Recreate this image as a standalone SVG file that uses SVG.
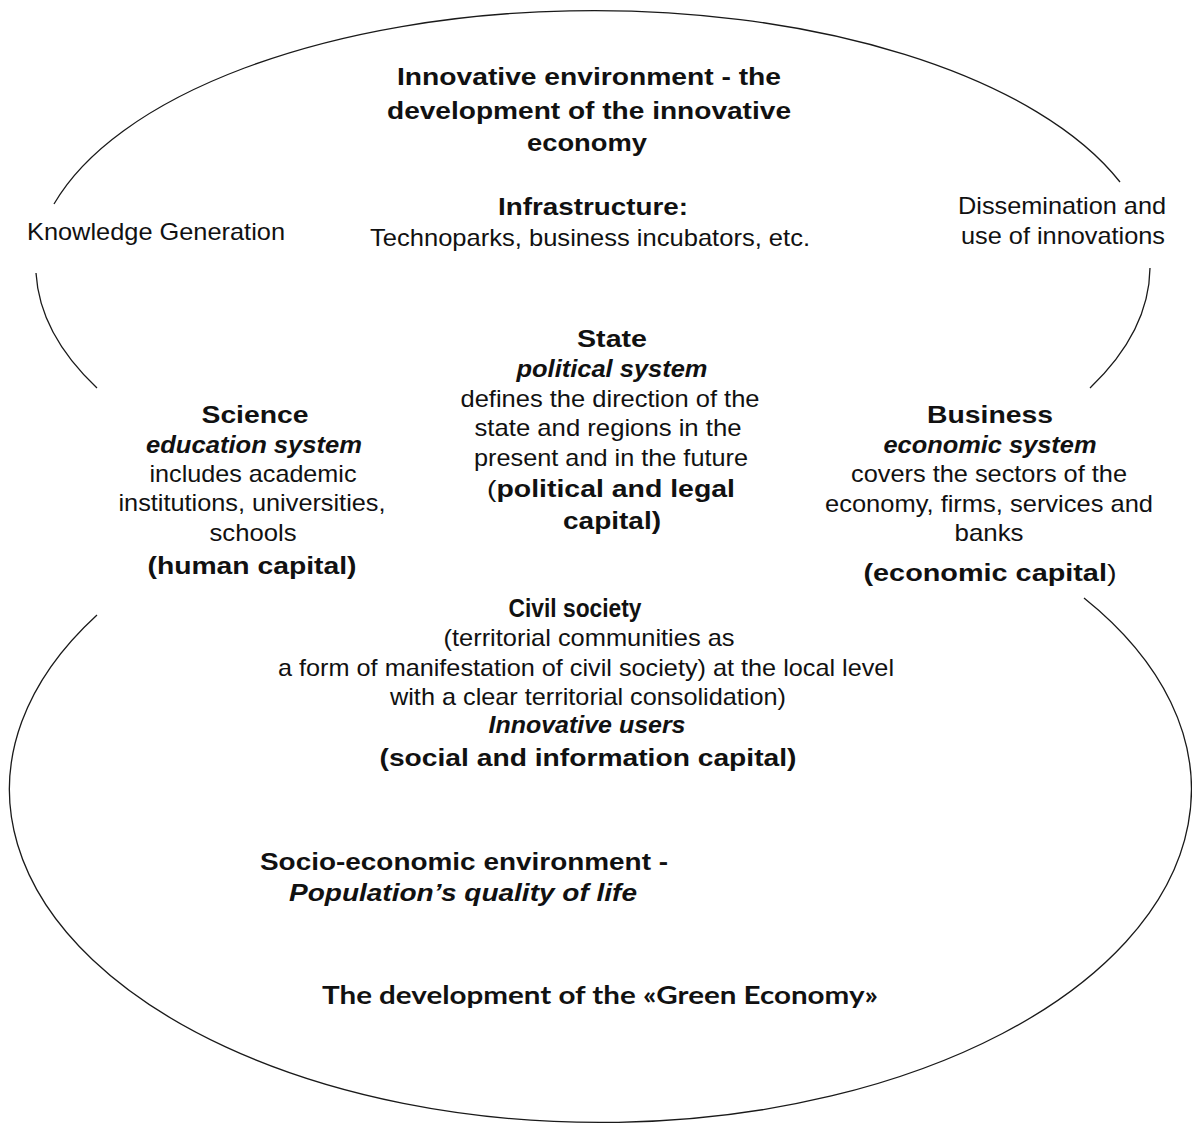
<svg xmlns="http://www.w3.org/2000/svg" width="1192" height="1131" viewBox="0 0 1192 1131">
<style>
.arc{fill:none;stroke:#1a1a1a;stroke-width:1.3}
text{font-family:"Liberation Sans",Arial,sans-serif;font-size:24px;fill:#111;text-anchor:middle}
.r{font-weight:normal}
.b{font-weight:bold}
.bi{font-weight:bold;font-style:italic}
.cal{font-family:Lato,"Open Sans",sans-serif;font-weight:bold}
</style>
<rect width="1192" height="1131" fill="#fff"/>
<g id="outlines">
<path class="arc" d="M 54 204 A 560 262 0 0 1 1120 182"/>
<path class="arc" d="M 36 273 A 560 270 0 0 0 97 388"/>
<path class="arc" d="M 1150 268 A 560 270 0 0 1 1090 388"/>
<path class="arc" d="M 97 615 A 591 333 0 1 0 1084 598"/>
</g>
<g id="innovative-environment">
<text class="b" x="589" y="85" textLength="384" lengthAdjust="spacingAndGlyphs">Innovative environment - the</text>
<text class="b" x="589" y="119" textLength="404" lengthAdjust="spacingAndGlyphs">development of the innovative</text>
<text class="b" x="587" y="151" textLength="120" lengthAdjust="spacingAndGlyphs">economy</text>
</g>
<g id="infrastructure">
<text class="b" x="593" y="215" textLength="190" lengthAdjust="spacingAndGlyphs">Infrastructure:</text>
<text class="r" x="590" y="246" textLength="440" lengthAdjust="spacingAndGlyphs">Technoparks, business incubators, etc.</text>
</g>
<g id="knowledge-generation">
<text class="r" x="156" y="240" textLength="258" lengthAdjust="spacingAndGlyphs">Knowledge Generation</text>
</g>
<g id="dissemination">
<text class="r" x="1062" y="214" textLength="208" lengthAdjust="spacingAndGlyphs">Dissemination and</text>
<text class="r" x="1063" y="244" textLength="204" lengthAdjust="spacingAndGlyphs">use of innovations</text>
</g>
<g id="state">
<text class="b" x="612" y="347" textLength="70" lengthAdjust="spacingAndGlyphs">State</text>
<text class="bi" x="612" y="377" textLength="191" lengthAdjust="spacingAndGlyphs">political system</text>
<text class="r" x="610" y="407" textLength="299" lengthAdjust="spacingAndGlyphs">defines the direction of the</text>
<text class="r" x="608" y="436" textLength="267" lengthAdjust="spacingAndGlyphs">state and regions in the</text>
<text class="r" x="611" y="466" textLength="274" lengthAdjust="spacingAndGlyphs">present and in the future</text>
<text x="611" y="497" textLength="248" lengthAdjust="spacingAndGlyphs"><tspan class="r">(</tspan><tspan class="b">political and legal</tspan></text>
<text class="b" x="612" y="529" textLength="98" lengthAdjust="spacingAndGlyphs">capital)</text>
</g>
<g id="science">
<text class="b" x="255" y="423" textLength="107" lengthAdjust="spacingAndGlyphs">Science</text>
<text class="bi" x="254" y="453" textLength="216" lengthAdjust="spacingAndGlyphs">education system</text>
<text class="r" x="253" y="482" textLength="207" lengthAdjust="spacingAndGlyphs">includes academic</text>
<text class="r" x="252" y="511" textLength="267" lengthAdjust="spacingAndGlyphs">institutions, universities,</text>
<text class="r" x="253" y="541" textLength="87" lengthAdjust="spacingAndGlyphs">schools</text>
<text class="b" x="252" y="574" textLength="209" lengthAdjust="spacingAndGlyphs">(human capital)</text>
</g>
<g id="business">
<text class="b" x="990" y="423" textLength="126" lengthAdjust="spacingAndGlyphs">Business</text>
<text class="bi" x="990" y="453" textLength="213" lengthAdjust="spacingAndGlyphs">economic system</text>
<text class="r" x="989" y="482" textLength="276" lengthAdjust="spacingAndGlyphs">covers the sectors of the</text>
<text class="r" x="989" y="512" textLength="328" lengthAdjust="spacingAndGlyphs">economy, firms, services and</text>
<text class="r" x="989" y="541" textLength="69" lengthAdjust="spacingAndGlyphs">banks</text>
<text x="990" y="581" textLength="253" lengthAdjust="spacingAndGlyphs"><tspan class="b">(economic capital</tspan><tspan class="r">)</tspan></text>
</g>
<g id="civil-society">
<text class="b" x="575" y="617" textLength="133" lengthAdjust="spacingAndGlyphs" style="font-size:25px">Civil society</text>
<text class="r" x="589" y="646" textLength="291" lengthAdjust="spacingAndGlyphs">(territorial communities as</text>
<text class="r" x="586" y="676" textLength="616" lengthAdjust="spacingAndGlyphs">a form of manifestation of civil society) at the local level</text>
<text class="r" x="588" y="705" textLength="396" lengthAdjust="spacingAndGlyphs">with a clear territorial consolidation)</text>
<text class="bi" x="587" y="733" textLength="197" lengthAdjust="spacingAndGlyphs">Innovative users</text>
<text class="b" x="588" y="766" textLength="417" lengthAdjust="spacingAndGlyphs">(social and information capital)</text>
</g>
<g id="socio-economic-environment">
<text class="b" x="464" y="870" textLength="408" lengthAdjust="spacingAndGlyphs">Socio-economic environment -</text>
<text class="bi" x="463" y="901" textLength="348" lengthAdjust="spacingAndGlyphs">Population’s quality of life</text>
</g>
<g id="green-economy">
<text class="cal" x="600" y="1004" textLength="556" lengthAdjust="spacingAndGlyphs">The development of the «Green Economy»</text>
</g>
</svg>
